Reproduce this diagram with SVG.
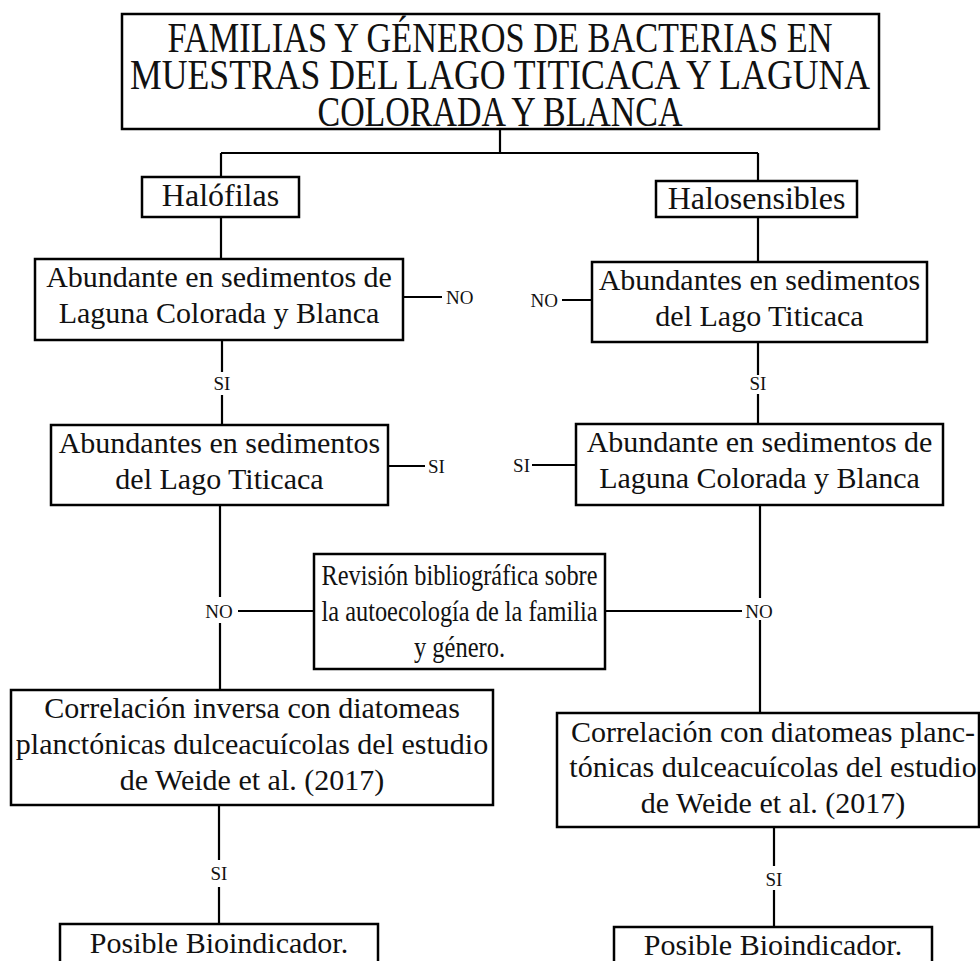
<svg xmlns="http://www.w3.org/2000/svg" width="980" height="961" viewBox="0 0 980 961">
<style>
.box{fill:#fff;stroke:#000;stroke-width:2.5}
.ln{fill:none;stroke:#000;stroke-width:2.2}
text{font-family:"Liberation Serif","Times New Roman",serif;fill:#111}
.t{font-size:30px;text-anchor:middle}
.m{font-size:29px;text-anchor:middle}
.h{font-size:32px;text-anchor:middle}
.ti{font-size:42px;text-anchor:middle}
.lb{font-size:19px}
</style>
<rect width="980" height="961" fill="#fff"/>
<g id="connectors">
<path class="ln" d="M500,129V153M221,153H758M221,153V176M758,153V181M221,217V259M758,217V262"/>
<path class="ln" d="M403,297H442M562,300H592"/>
<path class="ln" d="M222,340V372M222,395V425M758,342V375M758,394V424"/>
<path class="ln" d="M388,466H425M532,465H576"/>
<path class="ln" d="M220,505V597M220,623V690M238,611H314"/>
<path class="ln" d="M605,611H742M760,505V598M760,620V713"/>
<path class="ln" d="M219,805V860M219,887V924M774,827V866M774,890V927"/>
<text class="lb" x="446" y="304">NO</text>
<text class="lb" x="558" y="307" text-anchor="end">NO</text>
<text class="lb" x="222" y="390" text-anchor="middle">SI</text>
<text class="lb" x="758" y="390" text-anchor="middle">SI</text>
<text class="lb" x="428" y="473">SI</text>
<text class="lb" x="530" y="472" text-anchor="end">SI</text>
<text class="lb" x="219" y="618" text-anchor="middle">NO</text>
<text class="lb" x="759" y="618" text-anchor="middle">NO</text>
<text class="lb" x="219" y="880" text-anchor="middle">SI</text>
<text class="lb" x="774" y="886" text-anchor="middle">SI</text>
</g>
<g id="title">
<rect class="box" x="122" y="14" width="757" height="115"/>
<text class="ti" x="500" y="52" textLength="665" lengthAdjust="spacingAndGlyphs">FAMILIAS Y GÉNEROS DE BACTERIAS EN</text>
<text class="ti" x="500" y="89" textLength="740" lengthAdjust="spacingAndGlyphs">MUESTRAS DEL LAGO TITICACA Y LAGUNA</text>
<text class="ti" x="500" y="126" textLength="365" lengthAdjust="spacingAndGlyphs">COLORADA Y BLANCA</text>
</g>
<g id="halofilas">
<rect class="box" x="142" y="177" width="157" height="40"/>
<text class="h" x="220.5" y="206">Halófilas</text>
</g>
<g id="halosensibles">
<rect class="box" x="656" y="181" width="201" height="36"/>
<text class="h" x="756.5" y="209">Halosensibles</text>
</g>
<g id="l1">
<rect class="box" x="35" y="259" width="368" height="81"/>
<text class="t" x="219" y="287">Abundante en sedimentos de</text>
<text class="t" x="219" y="323">Laguna Colorada y Blanca</text>
</g>
<g id="r1">
<rect class="box" x="592" y="262" width="335" height="80"/>
<text class="t" x="759.5" y="290">Abundantes en sedimentos</text>
<text class="t" x="759.5" y="326">del Lago Titicaca</text>
</g>
<g id="l2">
<rect class="box" x="51" y="425" width="337" height="80"/>
<text class="t" x="219.5" y="453">Abundantes en sedimentos</text>
<text class="t" x="219.5" y="489">del Lago Titicaca</text>
</g>
<g id="r2">
<rect class="box" x="576" y="424" width="367" height="81"/>
<text class="t" x="759.5" y="452">Abundante en sedimentos de</text>
<text class="t" x="759.5" y="488">Laguna Colorada y Blanca</text>
</g>
<g id="revision">
<rect class="box" x="314" y="554" width="291" height="115"/>
<text class="m" x="459.5" y="585" textLength="276" lengthAdjust="spacingAndGlyphs">Revisión bibliográfica sobre</text>
<text class="m" x="459.5" y="621" textLength="276" lengthAdjust="spacingAndGlyphs">la autoecología de la familia</text>
<text class="m" x="459.5" y="657" textLength="91" lengthAdjust="spacingAndGlyphs">y género.</text>
</g>
<g id="l3">
<rect class="box" x="11" y="690" width="482" height="115"/>
<text class="t" x="252" y="718">Correlación inversa con diatomeas</text>
<text class="t" x="252" y="754">planctónicas dulceacuícolas del estudio</text>
<text class="t" x="252" y="790">de Weide et al. (2017)</text>
</g>
<g id="r3">
<rect class="box" x="557" y="713" width="422" height="114"/>
<text class="t" x="773" y="742">Correlación con diatomeas planc-</text>
<text class="t" x="773" y="777">tónicas dulceacuícolas del estudio</text>
<text class="t" x="773" y="813">de Weide et al. (2017)</text>
</g>
<g id="l4">
<rect class="box" x="60" y="924" width="318" height="60"/>
<text class="t" x="219" y="953">Posible Bioindicador.</text>
</g>
<g id="r4">
<rect class="box" x="614" y="927" width="318" height="60"/>
<text class="t" x="773" y="955">Posible Bioindicador.</text>
</g>
</svg>
